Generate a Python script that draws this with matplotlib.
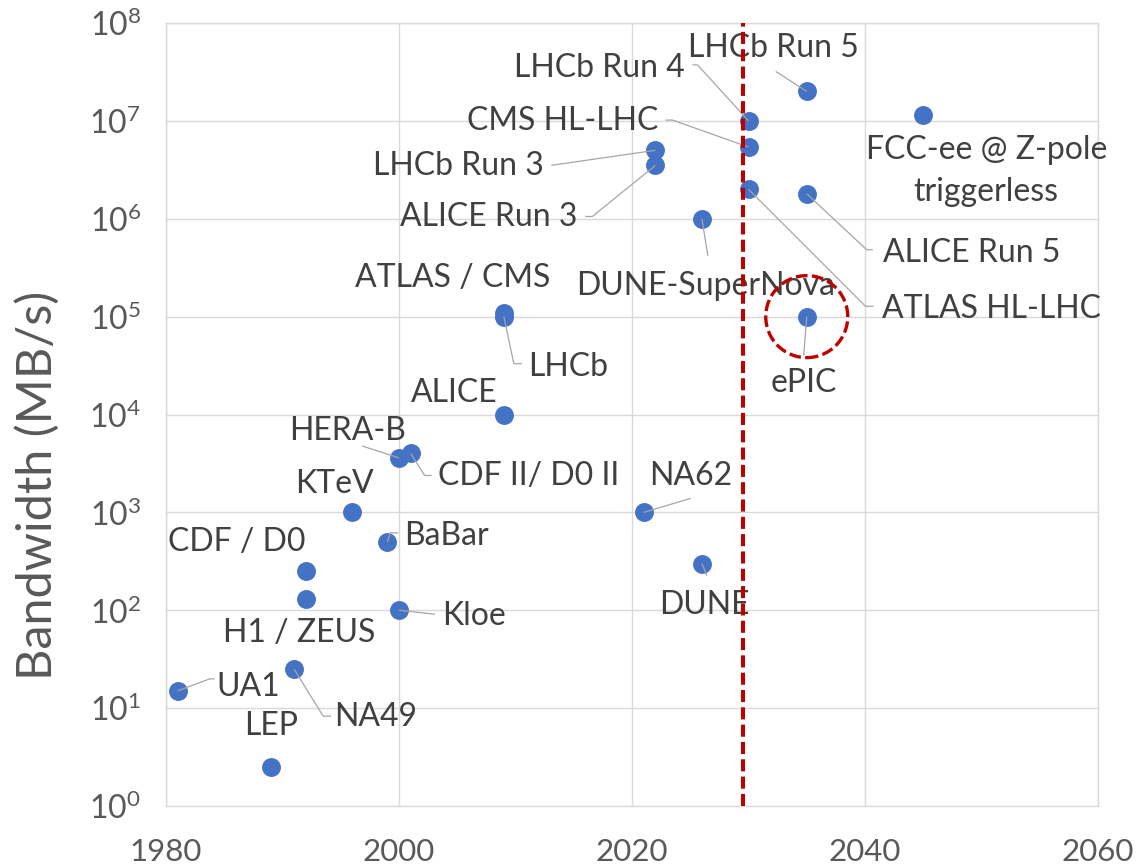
import numpy as np
import matplotlib.pyplot as plt

plt.rcParams['font.family'] = ['Lato', 'DejaVu Sans']
plt.rcParams['mathtext.fontset'] = 'custom'
plt.rcParams['mathtext.rm'] = 'Lato'
plt.rcParams['mathtext.it'] = 'Lato:italic'
plt.rcParams['mathtext.bf'] = 'Lato:bold'

# data
experiments = ["UA1", "LEP", "NA49", "H1 / ZEUS", "CDF / D0", "KTeV", "BaBar", "Kloe",
               "HERA-B", "CDF II/ D0 II", "ALICE", "ATLAS / CMS", "LHCb", "NA62", "DUNE",
               "DUNE-SuperNova", "LHCb Run 3", "ALICE Run 3", "CMS HL-LHC", "LHCb Run 4",
               "ATLAS HL-LHC", "ALICE Run 5", "LHCb Run 5", "FCC-ee @ Z-pole\ntriggerless",
               "ePIC"]
years = [1981, 1989, 1991, 1992, 1992, 1996, 1999, 2000,
         2000, 2001, 2009, 2009, 2009, 2021, 2026,
         2026, 2022, 2022, 2030, 2030,
         2030, 2035, 2035, 2045,
         2035]
bandwidth = [15, 2.5, 25, 130, 250, 1000, 500, 100,
             3600, 4000, 1e4, 1.1e5, 1e5, 1000, 300,
             1e6, 5e6, 3.5e6, 5.4e6, 1e7,
             2e6, 1.8e6, 2e7, 1.15e7,
             1e5]
xticks = [1980, 2000, 2020, 2040, 2060]
yticks = [10.0 ** k for k in range(0, 9)]
cutoff_year = 2029.5
highlight = "ePIC"

# label placement: text offset from dot in pixels (right, down), alignment, leader bends
label_layout = {
    "UA1": ((39, -4), "left", [(32, -12), (37, -12)]),
    "LEP": ((0, -41), "center", []),
    "NA49": ((40, 48), "left", [(29, 47), (37, 47)]),
    "H1 / ZEUS": ((-7, 34), "center", []),
    "CDF / D0": ((-69, -29), "center", []),
    "KTeV": ((-18, -28), "center", []),
    "BaBar": ((17, -6), "left", [(3, -9), (11, -9)]),
    "Kloe": ((43, 6), "left", [(36, 4)]),
    "HERA-B": ((-51, -27), "center", [(-37, -12)]),
    "CDF II/ D0 II": ((27, 23), "left", [(14, 22), (21, 22)]),
    "ALICE": ((-50, -22), "center", []),
    "ATLAS / CMS": ((-51, -35), "center", []),
    "LHCb": ((24, 50), "left", [(10, 47), (18, 47)]),
    "NA62": ((47, -36), "center", [(47, -14)]),
    "DUNE": ((2, 41), "center", [(5, 12)]),
    "DUNE-SuperNova": ((4, 67), "center", [(6, 37)]),
    "LHCb Run 3": ((-112, 16), "right", [(-104, 15)]),
    "ALICE Run 3": ((-78, 52), "right", [(-63, 51), (-70, 51)]),
    "CMS HL-LHC": ((-90, -26), "right", [(-76, -27), (-83, -27)]),
    "LHCb Run 4": ((-64, -53), "right", [(-51, -56), (-56, -56)]),
    "ATLAS HL-LHC": ((134, 120), "left", [(117, 117), (125, 117)]),
    "ALICE Run 5": ((76, 59), "left", [(60, 56), (66, 56)]),
    "LHCb Run 5": ((-33, -43), "center", [(-31, -20)]),
    "FCC-ee @ Z-pole\ntriggerless": ((63, 56), "center", []),
    "ePIC": ((-3, 66), "center", [(-3, 39)]),
}

text_color = "#404040"
grid_color = "#d9d9d9"

fig = plt.figure(figsize=(11.38, 8.67), dpi=100)
ax = fig.add_axes([166 / 1138, 61 / 867, 932 / 1138, 783 / 867])

ax.set_yscale("log")
ax.set_xlim(1980, 2060)
ax.set_ylim(1, 1e8)
ax.set_xticks(xticks)
ax.set_yticks(yticks)
ax.minorticks_off()
ax.yaxis.set_major_formatter(
    plt.FuncFormatter(lambda v, _: r"$\mathregular{10^{%d}}$" % round(np.log10(v))))
ax.tick_params(length=0, labelsize=23, labelcolor="#595959")
ax.tick_params(axis="x", pad=23, labelsize=22.5)
ax.tick_params(axis="y", pad=18)
ax.grid(True, color=grid_color, lw=1.0)
ax.set_axisbelow(True)
for s in ax.spines.values():
    s.set_color(grid_color)
    s.set_linewidth(1.0)

ax.set_ylabel("Bandwidth (MB/s)", fontsize=35, color="#595959")
ax.yaxis.set_label_coords(-0.138, 0.409)
ax.yaxis.label.set_va("center")
ax.yaxis.label.set_rotation_mode("default")

ax.scatter(years, bandwidth, s=185, color="#4472C4", zorder=3, linewidths=0)

# leader lines and labels
to_data = ax.transData.inverted()
for name, x, y in zip(experiments, years, bandwidth):
    (dx, dy), ha, bends = label_layout[name]
    px, py = ax.transData.transform((x, y))
    if bends:
        path = [(px, py)] + [(px + bx, py - by) for bx, by in bends]
        pts = to_data.transform(path)
        ax.plot(pts[:, 0], pts[:, 1], color="#a6a6a6", lw=0.9, zorder=4,
                solid_capstyle="butt")
    ax.annotate(name, (x, y), xytext=(dx, -dy), textcoords="offset pixels",
                ha=ha, va="center", fontsize=23, color=text_color,
                linespacing=1.5, zorder=5)

ax.axvline(cutoff_year, color="#C00000", lw=2.9, dashes=(3, 1.3), zorder=6)

i = experiments.index(highlight)
ax.scatter([years[i]], [bandwidth[i]], s=(82 * 0.72) ** 2, facecolors="none",
           edgecolors="#C00000", linewidths=2.4, linestyles=[(0, (3.5, 1.3))], zorder=6)

fig.savefig("out.png", dpi=100)
